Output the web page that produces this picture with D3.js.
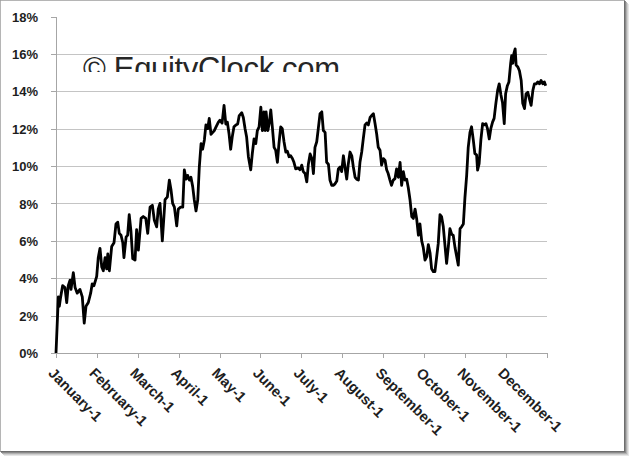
<!DOCTYPE html>
<meta charset="utf-8">
<style>
body { margin: 0; background: #fff; }
.grid line { stroke: #c4c4c4; stroke-width: 1; shape-rendering: crispEdges; }
.axis path, .axis line { stroke: #a6a6a6; shape-rendering: crispEdges; }
.axis text { font: bold 13px "Liberation Sans", Arial, sans-serif; fill: #1e1e1e; }
.axis.x text { font-size: 14.5px; }
.line { fill: none; stroke: #000; stroke-width: 2.8; stroke-linejoin: round; }
.mark { font: 31px "Liberation Sans", Arial, sans-serif; fill: #262626; }
</style>
<svg width="630" height="457"></svg>
<script src="https://cdn.jsdelivr.net/npm/d3@7"></script>
<script>

// trading day since Jan 1 (0..252) and cumulative seasonal gain
var tradingDay = [
  0, 1.2, 1.7, 2.4, 3.4, 4.6, 5.5, 6.3, 7.2, 7.7, 8.9, 9.8, 10.9, 12.3, 13.5, 14.5, 15.4, 16.6, 17.8, 18.6,
  19.5, 20.9, 21.7, 22.6, 23.5, 24.3, 25.2, 26.0, 26.6, 27.4, 28.6, 29.8, 30.8, 31.7, 32.5, 33.4, 34.3, 34.9, 36.0, 36.8,
  37.6, 38.5, 39.4, 40.6, 41.4, 42.3, 43.7, 44.8, 46.1, 47.1, 48.3, 49.5, 50.5, 51.7, 52.5, 53.4, 54.6, 56.0, 57.2, 58.2,
  59.1, 59.9, 60.8, 62.0, 62.8, 64.0, 65.1, 65.9, 66.8, 67.6, 68.5, 69.3, 70.2, 71.0, 71.9, 72.8, 73.6, 74.5, 75.3, 76.2,
  77.0, 77.9, 78.7, 79.6, 80.5, 81.3, 82.2, 83.4, 84.2, 85.3, 86.3, 87.2, 88.0, 88.9, 89.7, 90.5, 91.4, 92.4, 93.3, 94.1,
  95.4, 96.2, 97.1, 97.9, 98.8, 100.0, 100.8, 101.7, 102.6, 103.4, 104.3, 105.2, 106.0, 106.8, 107.4, 107.9, 108.8, 109.6, 110.3, 111.1,
  112.0, 112.8, 113.7, 114.5, 115.4, 116.2, 117.1, 118.0, 118.8, 119.7, 120.5, 121.4, 122.2, 123.1, 124.4, 125.3, 126.2, 127.0, 127.9, 128.8,
  129.6, 130.5, 131.4, 132.2, 133.0, 133.9, 134.7, 135.6, 136.5, 137.3, 138.2, 139.0, 139.9, 140.7, 141.6, 142.4, 143.3, 144.2, 145.0, 145.9,
  146.7, 147.6, 148.4, 149.3, 150.1, 151.0, 151.9, 152.7, 153.6, 154.4, 155.3, 156.1, 157.0, 157.8, 158.7, 159.6, 160.4, 161.3, 162.1, 163.0,
  163.8, 164.7, 165.5, 166.4, 167.2, 168.1, 169.0, 169.8, 170.6, 171.5, 172.3, 173.2, 174.1, 174.9, 175.8, 176.7, 177.5, 178.4, 179.2, 180.1,
  180.9, 181.8, 182.7, 183.5, 184.4, 185.2, 186.1, 186.9, 187.8, 188.6, 189.5, 190.4, 191.2, 192.1, 192.9, 193.8, 194.6, 195.5, 196.3, 197.2,
  198.0, 198.9, 199.8, 200.6, 201.5, 202.3, 203.2, 204.0, 204.9, 205.7, 206.6, 207.5, 208.3, 209.2, 210.0, 210.9, 211.7, 212.6, 213.4, 214.3,
  215.1, 216.0, 216.5, 217.3, 218.2, 219.1, 219.9, 220.8, 221.6, 222.5, 223.3, 224.2, 225.0, 225.9, 226.8, 227.6, 228.5, 229.3, 230.2, 230.9,
  231.8, 232.6, 233.5, 234.0, 234.6, 235.1, 235.8, 236.3, 237.2, 238.0, 238.9, 239.7, 240.6, 241.4, 242.3, 243.1, 244.0, 244.9, 245.7, 246.6,
  247.4, 248.3, 249.1, 250.0, 250.8, 251.5
];

var pct = [
  0.0, 3.0, 2.5, 3.0, 3.6, 3.5, 2.7, 3.6, 3.9, 3.4, 4.3, 3.5, 3.2, 3.4, 3.0, 1.6, 2.5, 2.7, 3.2, 3.7,
  3.6, 4.1, 5.1, 5.6, 4.6, 4.4, 5.1, 4.5, 5.3, 4.4, 5.7, 5.9, 6.9, 7.0, 6.4, 6.3, 5.9, 5.1, 6.2, 6.3,
  7.4, 6.5, 5.05, 4.97, 6.6, 5.5, 7.2, 7.3, 7.2, 6.4, 7.8, 7.9, 7.1, 6.75, 7.7, 8.0, 6.0, 8.2, 8.35, 9.25,
  8.7, 8.0, 7.8, 6.8, 7.7, 7.8, 7.8, 9.8, 9.3, 9.5, 9.25, 9.4, 8.9, 8.2, 7.6, 8.2, 9.95, 11.2, 10.9, 11.4,
  12.2, 12.0, 12.55, 11.7, 11.8, 11.9, 12.1, 12.35, 12.45, 12.3, 13.25, 12.25, 12.35, 11.7, 10.9, 11.55, 12.1, 12.2, 12.25, 12.7,
  12.85, 12.6, 12.0, 11.55, 10.5, 9.8, 10.65, 11.45, 11.2, 11.9, 12.1, 13.15, 11.9, 12.9, 11.9, 12.9, 11.9, 12.35, 13.0, 12.1,
  11.0, 10.85, 10.2, 11.2, 12.1, 12.0, 11.3, 10.75, 10.8, 10.5, 10.55, 10.4, 10.2, 9.85, 9.9, 9.8, 10.05, 9.7, 9.6, 9.15,
  10.1, 10.65, 10.4, 9.6, 11.0, 11.3, 12.0, 12.8, 12.9, 11.9, 11.8, 10.2, 10.1, 9.25, 8.97, 8.97, 9.05, 9.2, 9.85, 9.95,
  9.7, 10.55, 9.95, 9.3, 10.1, 10.75, 10.55, 9.95, 9.4, 9.3, 9.25, 10.2, 10.75, 11.45, 12.2, 12.3, 12.2, 12.6, 12.7, 12.8,
  12.3, 11.7, 11.0, 10.85, 10.05, 10.4, 10.3, 9.8, 9.6, 9.25, 8.97, 9.25, 9.33, 9.85, 9.4, 10.2, 8.97, 9.7, 9.25, 9.3,
  8.85, 8.2, 7.3, 7.2, 7.7, 7.2, 6.3, 6.9, 6.0, 5.65, 4.97, 5.15, 5.8, 5.35, 4.5, 4.35, 4.35, 5.15, 5.85, 7.4,
  7.3, 6.75, 5.7, 4.8, 5.7, 6.65, 6.35, 6.3, 5.65, 5.2, 4.7, 6.65, 6.75, 6.9, 8.3, 9.5, 11.0, 11.8, 12.1, 11.4,
  10.67, 10.6, 9.78, 10.13, 11.4, 12.27, 12.2, 12.27, 12.0, 11.45, 12.0, 12.35, 12.55, 13.35, 14.05, 14.4, 13.8, 13.4, 12.27, 13.87,
  14.3, 14.5, 15.5, 15.9, 15.5, 16.0, 16.27, 15.4, 15.3, 15.1, 14.58, 13.35, 13.07, 13.87, 13.95, 13.6, 13.25, 14.05, 14.4, 14.4,
  14.5, 14.4, 14.58, 14.4, 14.5, 14.3
];

var monthLabels = ["January-1", "February-1", "March-1", "April-1", "May-1", "June-1",
                   "July-1", "August-1", "September-1", "October-1", "November-1", "December-1"];
var yTicks = [0, 2, 4, 6, 8, 10, 12, 14, 16, 18];
var daysPerMonth = 21;

var svg = d3.select("svg");

// frame with drop shadow
var shadow = svg.append("g");
[[4, "#e6e6e6"], [3, "#cfcfcf"], [2, "#b0b0b0"], [1, "#8a8a8a"]].forEach(function(s) {
  shadow.append("rect")
      .attr("x", s[0] + 0.5).attr("y", s[0] + 0.5)
      .attr("width", 624).attr("height", 451)
      .attr("fill", "none").attr("stroke", s[1]);
});
svg.append("rect")
    .attr("x", 0.5).attr("y", 0.5)
    .attr("width", 624).attr("height", 451)
    .attr("fill", "#fff").attr("stroke", "#6e6e6e");
svg.append("line").attr("x1", 0.5).attr("y1", 0.5).attr("x2", 0.5).attr("y2", 451.5).attr("stroke", "#b5b5b5");
svg.append("line").attr("x1", 0.5).attr("y1", 0.5).attr("x2", 624.5).attr("y2", 0.5).attr("stroke", "#b5b5b5");

var x = d3.scaleLinear().domain([0, daysPerMonth * 12]).range([56, 546.7]);
var y = d3.scaleLinear().domain([0, 18]).range([353, 16.5]);

// watermark, cut off below like in the original
svg.append("clipPath").attr("id", "markclip")
  .append("rect").attr("x", 0).attr("y", 0).attr("width", 630).attr("height", 72);
svg.append("text")
    .attr("class", "mark")
    .attr("clip-path", "url(#markclip)")
    .attr("x", 83).attr("y", 79)
    .attr("textLength", 257)
    .text("\u00a9 EquityClock.com");

svg.append("g")
    .attr("class", "grid")
  .selectAll("line")
    .data(yTicks.filter(function(d) { return d > 0 && d < 18; }))
  .enter().append("line")
    .attr("x1", x(0)).attr("x2", x.range()[1])
    .attr("y1", function(d) { return Math.round(y(d)) + 0.5; })
    .attr("y2", function(d) { return Math.round(y(d)) + 0.5; });

var yAxis = svg.append("g")
    .attr("class", "axis")
    .attr("transform", "translate(" + x(0) + ",0)")
    .call(d3.axisLeft(y).tickValues(yTicks).tickSize(5).tickPadding(13)
      .tickFormat(function(d) { return d + "%"; }));
yAxis.select(".domain").attr("d", "M0," + y(18) + "V" + y(0));
yAxis.selectAll("text").attr("dy", "0.35em");

var monthTicks = d3.range(0, 13).map(function(i) { return i * daysPerMonth; });
var xAxis = svg.append("g")
    .attr("class", "axis x")
    .attr("transform", "translate(0," + y(0) + ")")
    .call(d3.axisBottom(x).tickValues(monthTicks).tickSize(5)
      .tickFormat(function(d, i) { return monthLabels[i] || ""; }));
xAxis.select(".domain").attr("d", "M" + x(0) + ",0H" + x.range()[1]);
xAxis.selectAll("text")
    .attr("text-anchor", "start")
    .attr("dy", null)
    .attr("y", 0)
    .attr("transform", "translate(-9,21) rotate(45)");

var line = d3.line()
    .x(function(d, i) { return x(tradingDay[i]); })
    .y(function(d) { return y(d); });

svg.append("path")
    .datum(pct)
    .attr("class", "line")
    .attr("d", line);

</script>
